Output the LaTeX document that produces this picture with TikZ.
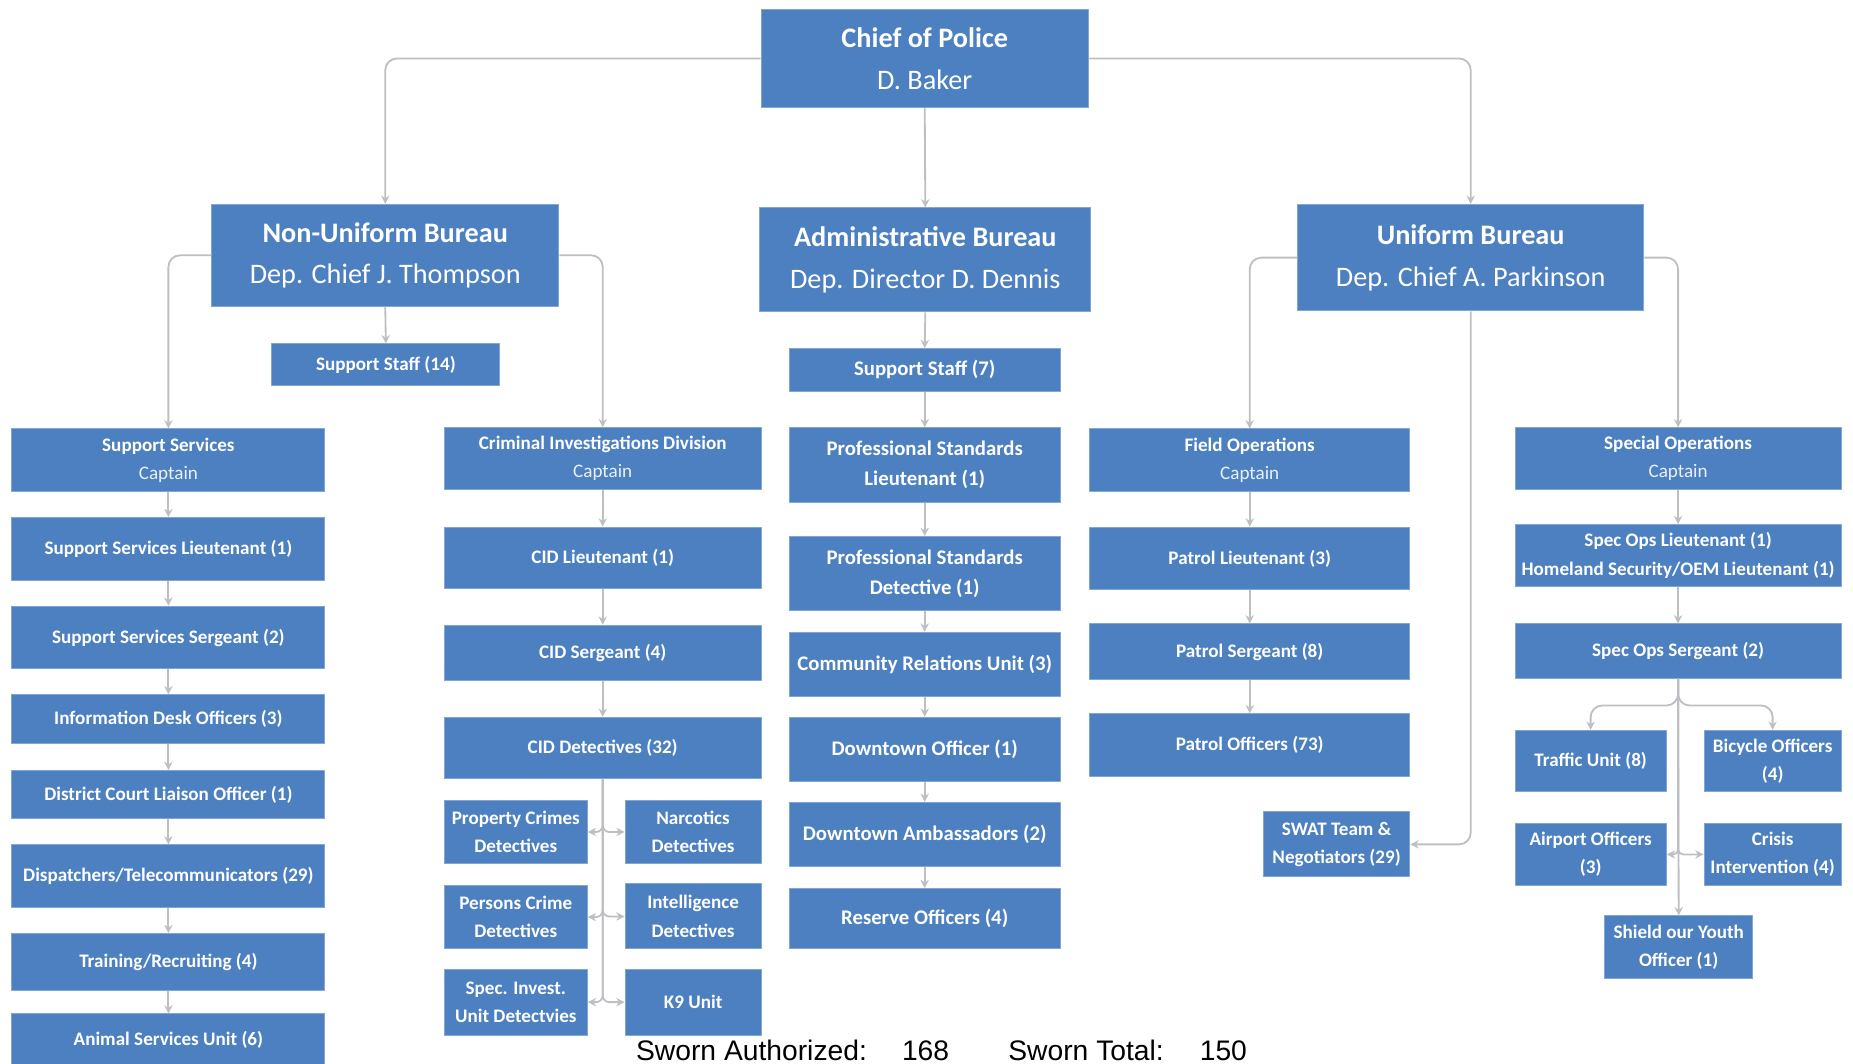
\documentclass[tikz,border=0pt]{standalone}
\usepackage{fontspec}
\setmainfont{Carlito}
\newfontfamily\arialfont{Liberation Sans}
\usepackage{xcolor}
\usetikzlibrary{arrows.meta}
\definecolor{boxblue}{RGB}{76,128,192}
\definecolor{linkgray}{RGB}{190,191,195}
\begin{document}
\begin{tikzpicture}[x=0.025cm,y=-0.025cm,>={Stealth[length=5pt,width=5pt]},line join=round,
  box/.style={fill=boxblue,draw=boxblue!70!white,line width=0.6pt,text=white,align=center,inner sep=0pt,
    font=\fontsize{11.5}{17}\selectfont\bfseries},
  adminbox/.style={box,font=\fontsize{12.5}{18}\selectfont\bfseries},
  head/.style={box,font=\fontsize{17}{25}\selectfont},
  sz/.style 2 args={minimum width=#1*0.025cm,minimum height=#2*0.025cm},
  link/.style={->,draw=linkgray,line width=1.1pt,rounded corners=7pt},
  sworn/.style={anchor=base west,inner sep=0pt,font=\arialfont\fontsize{17}{17}\selectfont}]
  \useasboundingbox (0,0) rectangle (1568,900);
  \node[head,sz={277}{83}] (chief) at (782.5,49.5) {\textbf{Chief of Police}\\D. Baker};
  \node[head,sz={294}{86}] (nub) at (326,216) {\textbf{Non-Uniform Bureau}\\Dep. Chief J. Thompson};
  \node[head,sz={280}{88}] (adm) at (783,220) {\textbf{Administrative Bureau}\\Dep. Director D. Dennis};
  \node[head,sz={293}{90}] (ub) at (1244.5,218) {\textbf{Uniform Bureau}\\Dep. Chief A. Parkinson};
  \node[box,sz={193}{35}] (nss) at (326.5,308.5) {Support Staff (14)};
  \node[box,sz={265}{53}] (sscap) at (142.5,389.5) {Support Services\\{\mdseries\color{white!88!boxblue}Captain}};
  \node[box,sz={265}{53}] (sslt) at (142.5,464.5) {Support Services Lieutenant (1)};
  \node[box,sz={265}{53}] (sssgt) at (142.5,539.5) {Support Services Sergeant (2)};
  \node[box,sz={265}{41}] (info) at (142.5,608.5) {Information Desk Officers (3)};
  \node[box,sz={265}{41}] (dcl) at (142.5,672.5) {District Court Liaison Officer (1)};
  \node[box,sz={265}{53}] (disp) at (142.5,741.5) {Dispatchers/Telecommunicators (29)};
  \node[box,sz={265}{48}] (train) at (142.5,814) {Training/Recruiting (4)};
  \node[box,sz={265}{44}] (animal) at (142.5,880) {Animal Services Unit (6)};
  \node[box,sz={268}{52}] (cidcap) at (510,388) {Criminal Investigations Division\\{\mdseries\color{white!88!boxblue}Captain}};
  \node[box,sz={268}{52}] (cidlt) at (510,472) {CID Lieutenant (1)};
  \node[box,sz={268}{47}] (cidsgt) at (510,552.5) {CID Sergeant (4)};
  \node[box,sz={268}{52}] (ciddet) at (510,633) {CID Detectives (32)};
  \node[box,sz={121}{54}] (prop) at (436.5,704) {Property Crimes\\Detectives};
  \node[box,sz={115}{54}] (narc) at (586.5,704) {Narcotics\\Detectives};
  \node[box,sz={121}{54}] (pers) at (436.5,776) {Persons Crime\\Detectives};
  \node[box,sz={115}{55}] (intel) at (586.5,775.5) {Intelligence\\Detectives};
  \node[box,sz={121}{56}] (spec) at (436.5,848) {Spec. Invest.\\Unit Detectvies};
  \node[box,sz={115}{56}] (k9) at (586.5,848) {K9 Unit};
  \node[adminbox,sz={229}{36}] (ass) at (782.5,313) {Support Staff (7)};
  \node[adminbox,sz={229}{63}] (psl) at (782.5,393.5) {Professional Standards\\Lieutenant (1)};
  \node[adminbox,sz={229}{63}] (psd) at (782.5,485.5) {Professional Standards\\Detective (1)};
  \node[adminbox,sz={229}{54}] (cru) at (782.5,562) {Community Relations Unit (3)};
  \node[adminbox,sz={229}{54}] (dto) at (782.5,634) {Downtown Officer (1)};
  \node[adminbox,sz={229}{54}] (dta) at (782.5,706) {Downtown Ambassadors (2)};
  \node[adminbox,sz={229}{51}] (res) at (782.5,777.5) {Reserve Officers (4)};
  \node[box,sz={271}{53}] (focap) at (1057.5,389.5) {Field Operations\\{\mdseries\color{white!88!boxblue}Captain}};
  \node[box,sz={271}{53}] (plt) at (1057.5,472.5) {Patrol Lieutenant (3)};
  \node[box,sz={271}{47}] (psgt) at (1057.5,551.5) {Patrol Sergeant (8)};
  \node[box,sz={271}{53}] (pofc) at (1057.5,630.5) {Patrol Officers (73)};
  \node[box,sz={124}{55}] (swat) at (1131,714.5) {SWAT Team \&\\Negotiators (29)};
  \node[box,sz={276}{52}] (socap) at (1420,388) {Special Operations\\{\mdseries\color{white!88!boxblue}Captain}};
  \node[box,sz={276}{52}] (solt) at (1420,470) {Spec Ops Lieutenant (1)\\Homeland Security/OEM Lieutenant (1)};
  \node[box,sz={276}{46}] (sosgt) at (1420,551) {Spec Ops Sergeant (2)};
  \node[box,sz={128}{52}] (traffic) at (1346,644) {Traffic Unit (8)};
  \node[box,sz={116}{52}] (bike) at (1500,644) {Bicycle Officers\\(4)};
  \node[box,sz={128}{52}] (air) at (1346,723) {Airport Officers\\(3)};
  \node[box,sz={116}{52}] (crisis) at (1500,723) {Crisis\\Intervention (4)};
  \node[box,sz={125}{53}] (shield) at (1420.5,801.5) {Shield our Youth\\Officer (1)};
  \coordinate (sofork) at (1420,597);
  \draw[link] (chief.west) -| (nub.north);
  \draw[link] (chief.east) -| (ub.north);
  \draw[link] (chief.south) -- (adm.north);
  \draw[link] (nub.south) -- (nss.north);
  \draw[link] (nub.west) -| (sscap.north);
  \draw[link] (nub.east) -| (cidcap.north);
  \draw[link] (sscap) -- (sslt);
  \draw[link] (sslt) -- (sssgt);
  \draw[link] (sssgt) -- (info);
  \draw[link] (info) -- (dcl);
  \draw[link] (dcl) -- (disp);
  \draw[link] (disp) -- (train);
  \draw[link] (train) -- (animal);
  \draw[link] (cidcap) -- (cidlt);
  \draw[link] (cidlt) -- (cidsgt);
  \draw[link] (cidsgt) -- (ciddet);
  \draw[link,rounded corners=4pt] (ciddet.south) |- (prop.east);
  \draw[link,rounded corners=4pt] (ciddet.south) |- (narc.west);
  \draw[link,rounded corners=4pt] (ciddet.south) |- (pers.east);
  \draw[link,rounded corners=4pt] (ciddet.south) |- (intel.west);
  \draw[link,rounded corners=4pt] (ciddet.south) |- (spec.east);
  \draw[link,rounded corners=4pt] (ciddet.south) |- (k9.west);
  \draw[link] (adm.south) -- (ass.north);
  \draw[link] (ass) -- (psl);
  \draw[link] (psl) -- (psd);
  \draw[link] (psd) -- (cru);
  \draw[link] (cru) -- (dto);
  \draw[link] (dto) -- (dta);
  \draw[link] (dta) -- (res);
  \draw[link] (ub.west) -| (focap.north);
  \draw[link] (ub.east) -| (socap.north);
  \draw[link] (ub.south) |- (swat.east);
  \draw[link] (focap) -- (plt);
  \draw[link] (plt) -- (psgt);
  \draw[link] (psgt) -- (pofc);
  \draw[link] (socap) -- (solt);
  \draw[link] (solt) -- (sosgt);
  \draw[link] (sosgt.south) -- (sofork) -| (traffic.north);
  \draw[link] (sosgt.south) -- (sofork) -| (bike.north);
  \draw[link,rounded corners=3pt] (sosgt.south) |- (air.east);
  \draw[link,rounded corners=3pt] (sosgt.south) |- (crisis.west);
  \draw[link] (sosgt.south) -- (shield.north);
  \node[sworn] (swauth) at (538,897) {Sworn Authorized:};
  \node[sworn] (swauthn) at (763,897) {168};
  \node[sworn] (swtot) at (853,897) {Sworn Total:};
  \node[sworn] (swtotn) at (1015,897) {150};
\end{tikzpicture}
\end{document}
